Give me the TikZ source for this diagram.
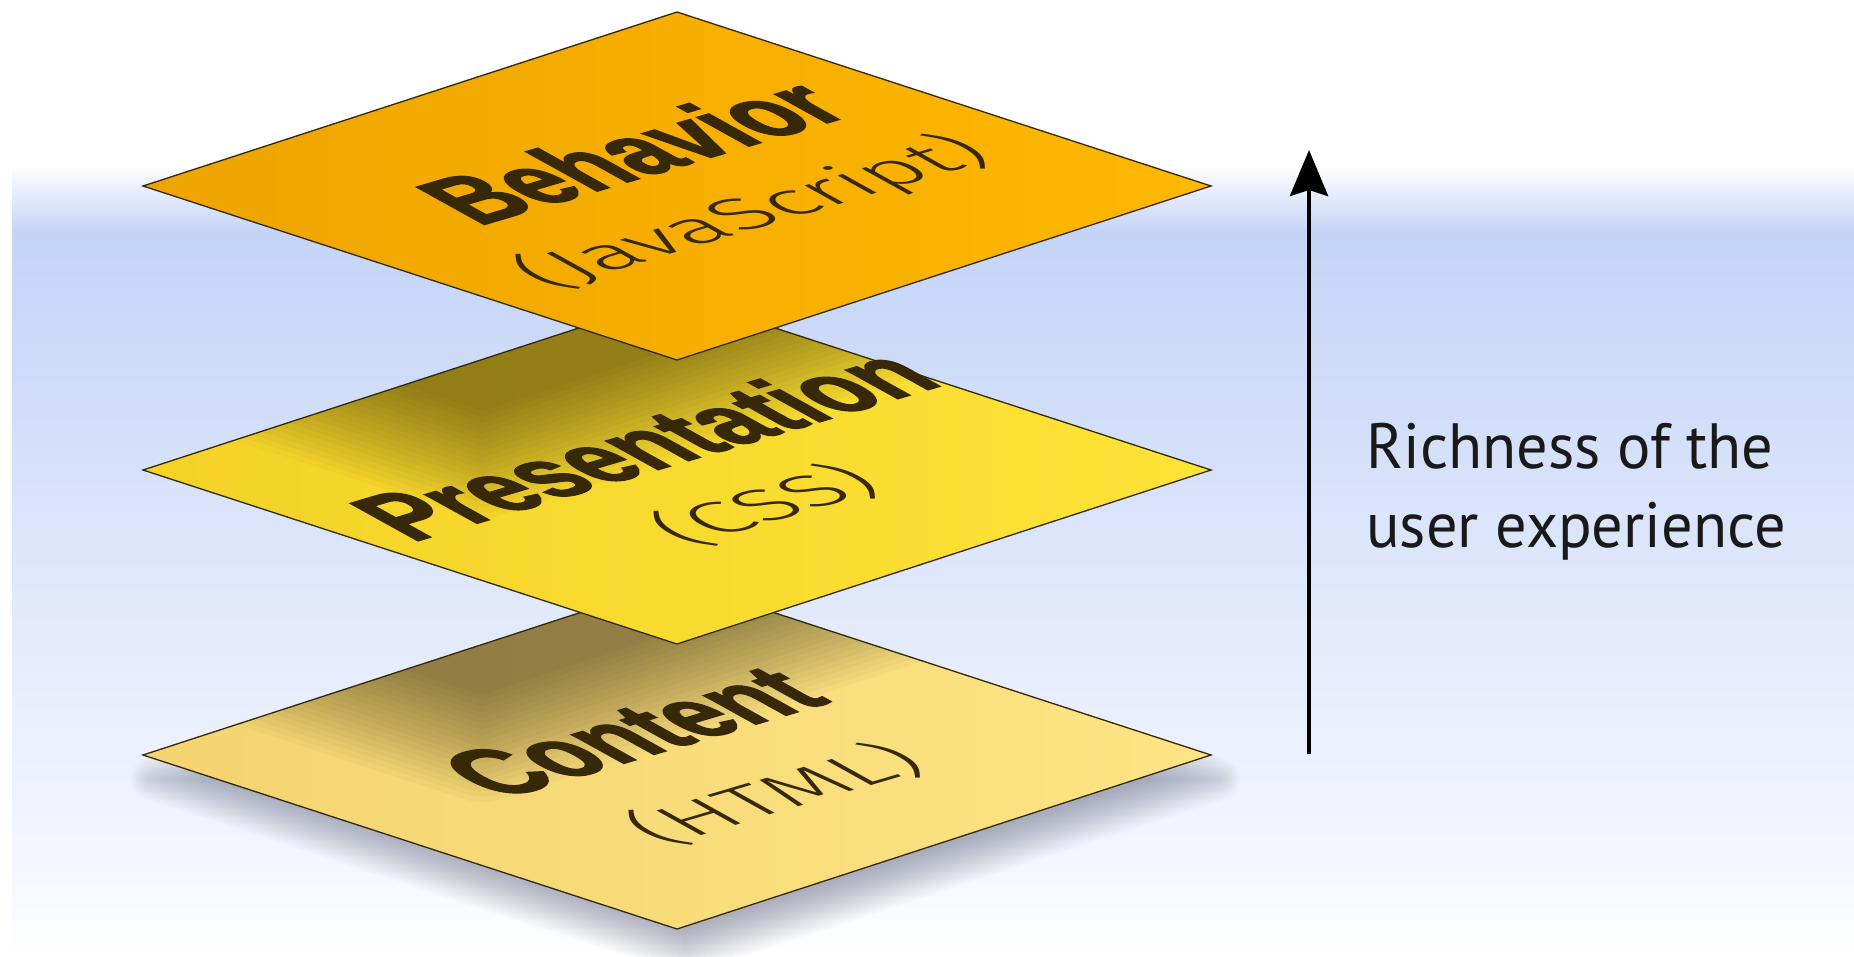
\documentclass[tikz,border=0pt]{standalone}
\usepackage{fontspec}
\setmainfont{Liberation Sans}
\newfontfamily\titlefont{Liberation Sans Bold}[FakeBold=2]
\newfontfamily\subfont{Fira Sans Light}
\newfontfamily\labelfont{PT Sans}
\usetikzlibrary{arrows.meta,calc}
\definecolor{bandblue}{RGB}{196,212,247}
\definecolor{bgbot}{RGB}{246,248,254}
\definecolor{behL}{RGB}{238,164,0}
\definecolor{behR}{RGB}{255,184,0}
\definecolor{preL}{RGB}{244,210,40}
\definecolor{preR}{RGB}{254,227,55}
\definecolor{conL}{RGB}{244,212,112}
\definecolor{conR}{RGB}{253,228,132}
\definecolor{edgec}{RGB}{50,40,10}
\definecolor{textc}{RGB}{55,40,8}
\definecolor{shadowc}{RGB}{40,45,80}
% rhombus path: centre x, centre y (screen), half width, half height
\newcommand\rh[4]{({#1-(#3)},{#2}) -- ({#1},{#2-(#4)}) -- ({#1+(#3)},{#2}) -- ({#1},{#2+(#4)}) -- cycle}
% outward offset rhombus with round corners: opts, cx, cy, d
\newcommand\offrh[4]{\fill[#1, shift={(#2,#3)}, y=1pt]
  ({-534+#4*cos(108.05)},{#4*sin(108.05)}) -- ({#4*cos(108.05)},{174+#4*sin(108.05)})
  arc[start angle=108.05,end angle=71.95,radius=#4]
  -- ({534+#4*cos(71.95)},{#4*sin(71.95)})
  arc[start angle=71.95,end angle=-71.95,radius=#4]
  -- ({#4*cos(-71.95)},{-174+#4*sin(-71.95)})
  arc[start angle=-71.95,end angle=-108.05,radius=#4]
  -- ({-534+#4*cos(-108.05)},{#4*sin(-108.05)})
  arc[start angle=-108.05,end angle=-251.95,radius=#4] -- cycle;}
% inward offset rhombus
\newcommand\inrh[4]{\fill[#1] \rh{#2}{#3}{534*(1-(#4)/165.4)}{174*(1-(#4)/165.4)};}
% blurred rhombus: opts, cx, cy, radius, steps
\newcommand\blurrh[5]{\foreach \k in {1,...,#5}{%
  \pgfmathsetmacro\dd{#4*(\k-0.5)/#5}%
  \offrh{#1}{#2}{#3}{\dd}\inrh{#1}{#2}{#3}{\dd}}}
\tikzset{
  ttl/.style={transform shape, inner sep=0pt, text=textc, font=\titlefont\fontsize{112}{112}\selectfont},
  sub/.style={transform shape, inner sep=0pt, text=textc, font=\subfont\fontsize{74}{74}\selectfont},
  lbl/.style={inner sep=0pt, text=black!90, font=\labelfont\fontsize{64}{64}\selectfont},
  edgeline/.style={draw=edgec, line width=1.3pt, line join=miter},
  skew/.style={y=1pt, cm={0.9588,0.2840,-0.8746,0.4848,(0,0)}}
}
\begin{document}
\begin{tikzpicture}[x=1pt,y=-1pt]
\useasboundingbox (0,0) rectangle (1854,956);
% background
\fill[white] (0,0) rectangle (1854,956);
\shade[top color=white,bottom color=bandblue] (12,165) rectangle (1854,232);
\shade[top color=bandblue,bottom color=bgbot] (12,231) rectangle (1854,880);
\shade[top color=bgbot,bottom color=white] (12,879) rectangle (1854,956);
% shadow under content
\blurrh{shadowc,opacity=0.02}{685}{779}{22}{10}
% content layer
\coordinate (cC) at (677,755);
\shade[left color=conL,right color=conR] \rh{677}{755}{534}{174};
\begin{scope}
  \clip \rh{677}{755}{534}{174};
  \blurrh{black,opacity=0.022}{482}{576}{55}{10}
\end{scope}
\path[edgeline] \rh{677}{755}{534}{174};
% presentation layer
\coordinate (cP) at (677,470);
\shade[left color=preL,right color=preR] \rh{677}{470}{534}{174};
\begin{scope}
  \clip \rh{677}{470}{534}{174};
  \blurrh{black,opacity=0.022}{482}{292}{55}{10}
\end{scope}
\path[edgeline] \rh{677}{470}{534}{174};
% behavior layer
\coordinate (cB) at (677,186);
\shade[left color=behL,right color=behR] \rh{677}{186}{534}{174};
\path[edgeline] \rh{677}{186}{534}{174};
% texts
\begin{scope}[shift={(cB)}]
\begin{scope}[skew]
  \node[ttl, anchor=base] (behT) at (12,25) {\scalebox{0.82}[1]{Behavior}};
  \node[sub] (behS) at (19,-66) {\scalebox{1.25}[1]{(JavaScript)}};
\end{scope}
\end{scope}
\begin{scope}[shift={(cP)}]
\begin{scope}[skew]
  \node[ttl, anchor=base] (preT) at (9,8) {\scalebox{0.82}[1]{Presentation}};
  \node[sub] (preS) at (17,-82) {\scalebox{1.25}[1]{(CSS)}};
\end{scope}
\end{scope}
\begin{scope}[shift={(cC)}]
\begin{scope}[skew]
  \node[ttl, anchor=base] (conT) at (-2,10) {\scalebox{0.82}[1]{Content}};
  \node[sub] (conS) at (18,-92) {\scalebox{1.25}[1]{(HTML)}};
\end{scope}
\end{scope}
% arrow
\coordinate (abot) at (1309,754);
\coordinate (atop) at (1309,150);
\draw[line width=4.5pt, -{Stealth[length=46pt,width=38pt,inset=6pt]}] (abot) -- (atop);
% label
\node[lbl, anchor=base west] (lab1) at (1366,468) {\scalebox{0.975}[1]{Richness of the}};
\node[lbl, anchor=base west] (lab2) at (1366,547) {\scalebox{0.975}[1]{user experience}};
\end{tikzpicture}
\end{document}
